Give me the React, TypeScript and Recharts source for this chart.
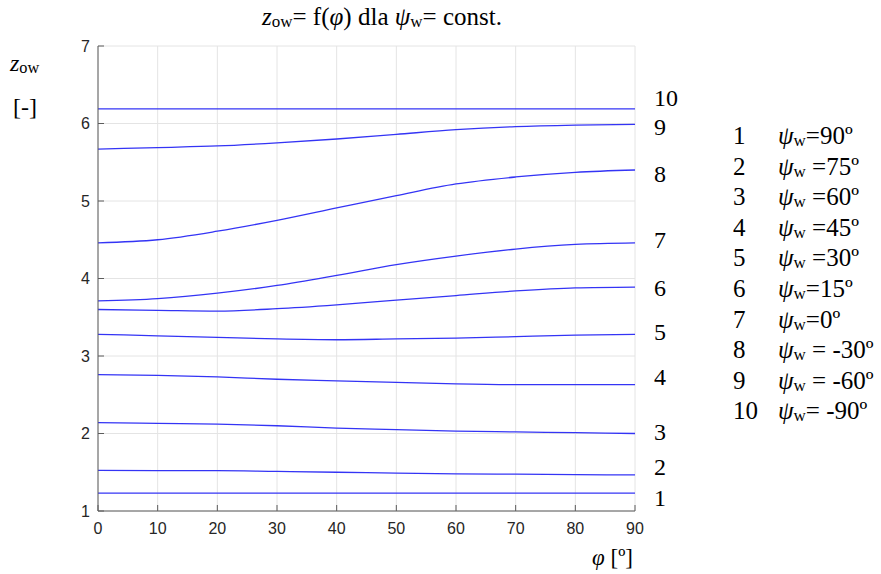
import { LineChart, Line, XAxis, YAxis, CartesianGrid, ReferenceDot } from 'recharts';

const phi = [0, 10, 20, 30, 40, 50, 60, 70, 80, 90];

const z1 = [1.23, 1.23, 1.23, 1.23, 1.23, 1.23, 1.23, 1.23, 1.23, 1.23];
const z2 = [1.525, 1.52, 1.52, 1.51, 1.5, 1.49, 1.48, 1.475, 1.47, 1.465];
const z3 = [2.14, 2.13, 2.12, 2.1, 2.07, 2.05, 2.03, 2.02, 2.01, 2.0];
const z4 = [2.76, 2.75, 2.73, 2.7, 2.68, 2.66, 2.64, 2.63, 2.63, 2.63];
const z5 = [3.28, 3.26, 3.24, 3.22, 3.21, 3.22, 3.23, 3.25, 3.27, 3.28];
const z6 = [3.6, 3.59, 3.58, 3.61, 3.66, 3.72, 3.78, 3.84, 3.88, 3.89];
const z7 = [3.71, 3.74, 3.81, 3.91, 4.04, 4.18, 4.29, 4.38, 4.44, 4.46];
const z8 = [4.46, 4.5, 4.61, 4.75, 4.91, 5.07, 5.22, 5.31, 5.37, 5.4];
const z9 = [5.67, 5.69, 5.71, 5.75, 5.8, 5.86, 5.92, 5.96, 5.98, 5.99];
const z10 = [6.19, 6.19, 6.19, 6.19, 6.19, 6.19, 6.19, 6.19, 6.19, 6.19];

const curves = [z1, z2, z3, z4, z5, z6, z7, z8, z9, z10];

// where the curve numbers sit on the right (value units)
const endLabelAt = [1.18, 1.57, 2.02, 2.74, 3.31, 3.89, 4.5, 5.36, 5.96, 6.33];

const psiText = ['=90º', ' =75º', ' =60º', ' =45º', ' =30º', '=15º', '=0º', ' = -30º', ' = -60º', '= -90º'];

const xTicks = [0, 10, 20, 30, 40, 50, 60, 70, 80, 90];
const yTicks = [1, 2, 3, 4, 5, 6, 7];

const data = phi.map((p, i) => {
  const row: Record<string, number> = { phi: p };
  curves.forEach((c, k) => {
    row['z' + (k + 1)] = c[i];
  });
  return row;
});

const serif = "'Liberation Serif', 'DejaVu Serif', serif";
const sans = "'Liberation Sans', Arial, sans-serif";
const axisColor = '#5c5c5c';
const lineColor = '#3434f5';

const Sub = ({ children }: { children: string }) => (
  <span style={{ fontSize: '0.68em', fontStyle: 'normal', position: 'relative', top: '0.12em' }}>{children}</span>
);

export default function App() {
  return (
    <div style={{ position: 'fixed', left: 0, top: 0, width: 881, height: 574, background: '#fff', fontFamily: serif, color: '#000' }}>
      <LineChart width={881} height={574} data={data} margin={{ top: 46, right: 246, bottom: 33, left: 48 }}>
        <CartesianGrid stroke="#e4e4e4" strokeWidth={1} />
        <XAxis
          dataKey="phi"
          type="number"
          domain={[0, 90]}
          ticks={xTicks}
          height={30}
          tickSize={-6}
          tickMargin={18}
          stroke={axisColor}
          tick={{ fill: '#262626', fontSize: 16, fontFamily: sans }}
        />
        <XAxis
          xAxisId="top"
          orientation="top"
          dataKey="phi"
          type="number"
          domain={[0, 90]}
          ticks={xTicks}
          height={0}
          tickSize={-6}
          stroke={axisColor}
          tickFormatter={() => ''}
        />
        <YAxis
          type="number"
          domain={[1, 7]}
          ticks={yTicks}
          width={50}
          tickSize={-6}
          tickMargin={14}
          stroke={axisColor}
          tick={{ fill: '#262626', fontSize: 16, fontFamily: sans }}
        />
        <YAxis
          yAxisId="right"
          orientation="right"
          type="number"
          domain={[1, 7]}
          ticks={yTicks}
          width={0}
          tickSize={-6}
          stroke={axisColor}
          tickFormatter={() => ''}
        />
        {curves.map((_, k) => (
          <Line
            key={k}
            type="monotone"
            dataKey={'z' + (k + 1)}
            stroke={lineColor}
            strokeWidth={1.3}
            dot={false}
            isAnimationActive={false}
          />
        ))}
        {endLabelAt.map((v, k) => (
          <ReferenceDot
            key={'l' + k}
            x={90}
            y={v}
            r={0}
            stroke="none"
            fill="none"
            label={{ value: String(k + 1), position: 'right', offset: 19, fill: '#000', fontSize: 24, fontFamily: serif }}
          />
        ))}
      </LineChart>

      <div style={{ position: 'absolute', left: 262, top: 3, fontSize: 25, whiteSpace: 'nowrap' }}>
        <i>z</i><Sub>ow</Sub>= f(<i>φ</i>) dla <i>ψ</i><Sub>w</Sub>= const.
      </div>

      <div style={{ position: 'absolute', left: 10, top: 50, fontSize: 24 }}>
        <i>z</i><Sub>ow</Sub>
      </div>
      <div style={{ position: 'absolute', left: 13, top: 94, fontSize: 24 }}>[-]</div>

      <div style={{ position: 'absolute', left: 592, top: 545, fontSize: 23, whiteSpace: 'nowrap' }}>
        <i>φ</i> [º]
      </div>

      <div style={{ position: 'absolute', left: 733, top: 121, fontSize: 25 }}>
        {psiText.map((t, k) => (
          <div key={k} style={{ display: 'flex', whiteSpace: 'pre', height: 30.6, lineHeight: '30.6px' }}>
            <span style={{ width: 45 }}>{k + 1}</span>
            <span>
              <i>ψ</i><Sub>w</Sub>{t}
            </span>
          </div>
        ))}
      </div>
    </div>
  );
}
